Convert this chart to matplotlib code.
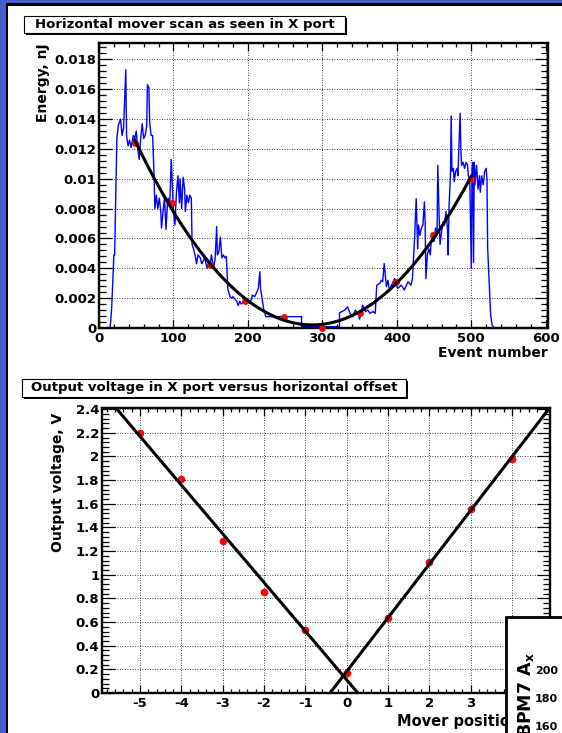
import numpy as np
import matplotlib
matplotlib.use("Agg")
import matplotlib.pyplot as plt
from matplotlib.patches import Rectangle
from matplotlib.transforms import Bbox, TransformedBbox
from matplotlib.ticker import MultipleLocator, FormatStrFormatter

# upper pad: energy in the X port while the mover sweeps horizontally
event = [0, 15, 17, 20, 21, 24, 26, 29, 31, 33, 34, 36, 37, 39, 41, 43, 46, 48, 50, 52,
         54, 56, 58, 60, 62, 64, 65, 67, 68, 70, 72, 74, 75, 77, 79, 81, 83, 84, 86, 88,
         90, 92, 93, 95, 97, 99, 100, 102, 104, 106, 108, 109, 111, 113, 115, 116, 118, 120, 122, 124,
         125, 127, 129, 131, 133, 136, 138, 140, 142, 145, 147, 149, 151, 154, 156, 158, 159, 161, 163, 165,
         167, 169, 171, 173, 176, 178, 180, 183, 185, 187, 189, 191, 194, 198, 203, 206, 209, 212, 214, 216,
         217, 219, 221, 224, 272, 272, 323, 323, 330, 334, 337, 341, 344, 348, 350, 354, 358, 361, 364, 368,
         371, 373, 377, 379, 381, 383, 386, 388, 390, 397, 401, 406, 410, 415, 419, 421, 424, 426, 428, 429,
         431, 433, 435, 437, 438, 439, 441, 443, 445, 446, 448, 450, 452, 454, 455, 457, 458, 460, 462, 464,
         466, 468, 469, 470, 472, 473, 474, 476, 477, 479, 481, 482, 483, 485, 486, 487, 489, 491, 493, 495,
         496, 498, 500, 501, 502, 503, 504, 505, 507, 509, 511, 512, 514, 516, 518, 520, 521, 522, 524, 526,
         528, 531, 546]
energy_1e3 = [0, 0, 1.3, 4.9, 4.9, 12.7, 13.6, 14.0, 12.9, 13.4, 14.7, 17.3, 12.9, 12.2, 12.6, 12.1, 12.9, 12.7, 13.2, 12.0,
              11.3, 12.7, 13.7, 12.7, 12.9, 13.5, 16.3, 16.1, 13.8, 12.9, 12.9, 10.2, 8.0, 8.9, 8.0, 8.7, 7.8, 6.7, 7.8, 8.7,
              6.6, 8.4, 8.7, 8.2, 11.3, 8.9, 7.8, 6.9, 9.1, 10.2, 8.4, 10.0, 8.0, 10.1, 9.3, 7.8, 8.9, 8.4, 8.9, 8.7,
              5.6, 5.3, 4.9, 4.3, 4.9, 4.7, 4.3, 4.5, 4.7, 4.0, 4.4, 4.2, 4.9, 4.0, 4.7, 6.8, 4.9, 5.1, 6.1, 4.7,
              4.9, 4.7, 4.8, 2.6, 2.1, 2.0, 2.1, 1.9, 1.8, 1.5, 1.8, 1.6, 1.76, 1.87, 1.65, 2.2, 2.1, 2.4, 2.65, 3.77,
              2.65, 2.0, 1.3, 0.76, 0.76, 0.09, 0.09, 1.02, 1.2, 1.42, 0.98, 0.75, 1.2, 0.98, 0.6, 1.53, 1.1, 1.2, 0.98, 1.1,
              0.98, 2.87, 2.98, 3.2, 3.1, 4.32, 2.76, 3.2, 2.54, 3.32, 2.65, 2.87, 2.54, 3.1, 2.87, 3.32, 6.2, 8.67, 5.3, 6.9,
              6.2, 6.7, 6.9, 8.45, 7.1, 3.3, 4.9, 5.3, 4.9, 5.8, 6.2, 5.8, 6.7, 6.4, 10.9, 7.1, 5.6, 6.4, 7.1, 6.9,
              7.8, 6.7, 4.9, 8.0, 10.2, 14.2, 10.5, 10.7, 9.8, 10.5, 10.7, 10.2, 11.6, 14.4, 12.0, 10.9, 11.1, 10.7, 11.1, 10.9,
              10.2, 9.8, 4.0, 10.7, 11.1, 4.4, 11.1, 9.6, 10.9, 9.3, 10.2, 9.1, 10.2, 9.6, 10.5, 10.7, 10.0, 5.3, 3.1, 0.87,
              0.2, 0, 0]
scan_event = [48, 98, 149, 196, 248, 300, 351, 399, 448, 500]
scan_energy = [0.0124, 0.00838, 0.00421, 0.00181, 0.00072, 0.00002, 0.0010, 0.0031, 0.00622, 0.00997]

# lower pad: output voltage against mover offset
offset = [-5, -4, -3, -2, -1, 0, 1, 2, 3, 4]
voltage = [2.2, 1.806, 1.283, 0.858, 0.529, 0.169, 0.636, 1.111, 1.556, 1.978]

# neighbouring pad, only its left edge shows
bpm_ticks = [160, 180, 200]

plt.rcParams['font.family'] = ['DejaVu Sans']
plt.rcParams['font.weight'] = 'bold'
plt.rcParams['axes.unicode_minus'] = False

W, H = 562, 733
fig = plt.figure(figsize=(W / 100, H / 100), dpi=100)
fig.patch.set_facecolor('white')


def pad_axes(left, top, right, bottom):
    return fig.add_axes([left / W, 1 - bottom / H, (right - left) / W, (bottom - top) / H])


def root_frame(ax, xmaj, xmin, ymaj, ymin):
    ax.xaxis.set_major_locator(MultipleLocator(xmaj))
    ax.xaxis.set_minor_locator(MultipleLocator(xmin))
    ax.yaxis.set_major_locator(MultipleLocator(ymaj))
    ax.yaxis.set_minor_locator(MultipleLocator(ymin))
    ax.xaxis.set_major_formatter(FormatStrFormatter('%g'))
    ax.yaxis.set_major_formatter(FormatStrFormatter('%g'))
    ax.tick_params(which='both', direction='in', top=True, right=True, width=0.9, labelsize=9.5)
    ax.tick_params(axis='y', which='major', length=9.5, pad=2)
    ax.tick_params(axis='y', which='minor', length=4.8)
    ax.tick_params(axis='x', which='major', length=6, pad=3)
    ax.tick_params(axis='x', which='minor', length=3)
    for s in ax.spines.values():
        s.set_linewidth(1.7)
    ax.grid(True, which='major', color='black', linestyle=(0, (1, 2)), linewidth=0.6)


def title_box(left, top, right, bottom, text):
    w, h = (right - left) / W, (bottom - top) / H
    fig.add_artist(Rectangle(((left + 2) / W, 1 - (bottom + 2) / H), w, h, transform=fig.transFigure,
                             facecolor='black', edgecolor='none', zorder=2))
    fig.add_artist(Rectangle((left / W, 1 - bottom / H), w, h, transform=fig.transFigure,
                             facecolor='white', edgecolor='black', linewidth=0.8, zorder=2))
    fig.text((left + right) / 2 / W, 1 - (top + bottom) / 2 / H, text, ha='center', va='center',
             fontsize=9.5, fontweight='bold', zorder=3)


# ---- upper pad ----
ax1 = pad_axes(99, 43, 548, 328)
ax1.plot(event, np.array(energy_1e3) * 1e-3, color='#0000ff', lw=1.0, zorder=2)
ax1.plot(scan_event, scan_energy, 'o', color='red', ms=5, mec='none', clip_on=False, zorder=3)
coef = np.polyfit(scan_event, scan_energy, 2)
xx = np.linspace(scan_event[0], scan_event[-1], 200)
ax1.plot(xx, np.polyval(coef, xx), color='black', lw=2.2, zorder=4)
ax1.set_xlim(0, 603)
ax1.set_ylim(0, 0.0191)
root_frame(ax1, 100, 20, 0.002, 0.0004)
ax1.set_ylabel('Energy, nJ', loc='top', fontsize=10, fontweight='bold')
ax1.yaxis.set_label_coords((50 - 99) / 449, 1.0)
ax1.set_xlabel('Event number', loc='right', fontsize=10, fontweight='bold')
ax1.xaxis.set_label_coords(1.0, -(346 - 328) / 285)
title_box(24, 16, 345, 33, 'Horizontal mover scan as seen in X port')

# ---- lower pad ----
ax2 = pad_axes(102, 408, 550, 693)
off = np.array(offset)
volt = np.array(voltage)
ax2.plot(off, volt, 'o', color='red', ms=5.5, mec='none', zorder=3)
xl = np.array([-5.92, 4.92])
for side in (off <= 0, off >= 0):
    k = np.polyfit(off[side], volt[side], 1)
    ax2.plot(xl, np.polyval(k, xl), color='black', lw=2.2, zorder=4)
ax2.set_xlim(xl)
ax2.set_ylim(0, 2.41)
root_frame(ax2, 1, 0.2, 0.2, 0.04)
ax2.set_ylabel('Output voltage, V', loc='top', fontsize=10, fontweight='bold')
ax2.yaxis.set_label_coords((65 - 102) / 448, 1 - 5 / 285)
ax2.set_xlabel('Mover position', loc='left', fontsize=10.5, fontweight='bold')
ax2.xaxis.set_label_coords((397 - 102) / 448, -(714 - 693) / 285)
# the neighbouring pad covers the end of this title
ax2.xaxis.label.set_clip_box(TransformedBbox(Bbox.from_extents(0, 0, 506 / W, 1), fig.transFigure))
ax2.xaxis.label.set_clip_on(True)
title_box(22, 379, 406, 397, 'Output voltage in X port versus horizontal offset')

# ---- neighbouring pad peeking in at the lower right ----
fig.add_artist(Rectangle((506 / W, 1 - 760 / H), 100 / W, 143 / H, transform=fig.transFigure,
                         facecolor='white', edgecolor='black', linewidth=2, zorder=5))
ax3 = pad_axes(562, 655, 700, 760)
ax3.set_zorder(10)
ax3.patch.set_visible(False)
for s in ax3.spines.values():
    s.set_visible(False)
ax3.set_xticks([])
ax3.set_ylim(135.7, 210.7)
ax3.set_yticks(bpm_ticks)
ax3.tick_params(axis='y', length=0, pad=2.8, labelsize=8)
ax3.set_ylabel(r'BPM7 A$_\mathbf{x}$', loc='top', fontsize=12.5, fontweight='bold')
ax3.yaxis.set_label_coords(-26.5 / 138, 1 + 3 / 105)

# canvas border
blue = '#4560cc'
fig.add_artist(Rectangle((0, 0), 6 / W, 1, transform=fig.transFigure, facecolor=blue, edgecolor='none', zorder=20))
fig.add_artist(Rectangle((0, 1 - 3.3 / H), 1, 3.3 / H, transform=fig.transFigure, facecolor=blue, edgecolor='none', zorder=20))
fig.add_artist(Rectangle((6 / W, 0), 2.3 / W, 1 - 3.3 / H, transform=fig.transFigure, facecolor='black', edgecolor='none', zorder=20))
fig.add_artist(Rectangle((6 / W, 1 - 5.7 / H), 1, 2.4 / H, transform=fig.transFigure, facecolor='black', edgecolor='none', zorder=20))

fig.savefig('out.png', dpi=100)
